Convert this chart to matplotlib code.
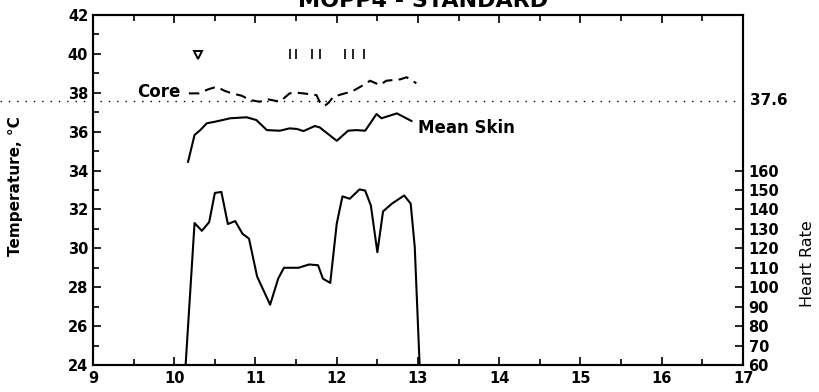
# MOPP4 standard trial: core / mean skin temperature and heart rate vs time
import matplotlib
matplotlib.use("Agg")
import matplotlib.pyplot as plt
from matplotlib.ticker import MultipleLocator, FixedLocator
from matplotlib.transforms import blended_transform_factory

plt.rcParams['font.family'] = ['DejaVu Sans']

# time of day (h) and heart rate (bpm)
hr_time = [10.14, 10.25, 10.34, 10.43, 10.50, 10.58, 10.66, 10.75, 10.84,
           10.92, 11.02, 11.18, 11.28, 11.35, 11.53, 11.66, 11.77, 11.83,
           11.92, 12.00, 12.07, 12.16, 12.28, 12.35, 12.42, 12.50, 12.57,
           12.68, 12.83, 12.91, 12.96, 13.02]
hr_bpm = [60, 133, 129, 133.5, 148.5, 149, 132.5, 134, 127.5,
          125, 105.5, 91, 104.5, 110, 110, 111.7, 111.3, 104.4,
          102.2, 132.7, 146.7, 145.5, 150.3, 149.7, 142, 118, 139,
          143, 147.2, 143, 120.7, 60]

# mean skin temperature (deg C)
skin_time = [10.17, 10.25, 10.32, 10.40, 10.50, 10.69, 10.89, 11.01, 11.14,
             11.30, 11.42, 11.51, 11.59, 11.73, 11.79, 12.00, 12.14, 12.24,
             12.35, 12.49, 12.55, 12.74, 12.92]
skin_temp = [34.45, 35.83, 36.08, 36.43, 36.51, 36.69, 36.74, 36.60, 36.08,
             36.05, 36.17, 36.14, 36.03, 36.29, 36.22, 35.53, 36.05, 36.08,
             36.05, 36.91, 36.69, 36.94, 36.55]

# core (rectal) temperature (deg C)
core_time = [10.18, 10.30, 10.42, 10.52, 10.62, 10.71, 10.83, 10.93, 11.05,
             11.16, 11.30, 11.42, 11.51, 11.59, 11.75, 11.79, 11.85, 11.90,
             11.96, 12.10, 12.18, 12.33, 12.41, 12.53, 12.61, 12.78, 12.86,
             12.98]
core_temp = [37.97, 37.97, 38.18, 38.31, 38.10, 37.97, 37.85, 37.63, 37.54,
             37.66, 37.54, 37.97, 38.00, 37.97, 37.88, 37.54, 37.32, 37.49,
             37.80, 37.97, 38.05, 38.40, 38.62, 38.40, 38.62, 38.69, 38.80,
             38.49]

ref_core = 37.6
# event markers along the top
start_mark = (10.29, 39.95)
event_times = [11.42, 11.50, 11.70, 11.79, 12.10, 12.20, 12.33]

hr_ticks = [60, 70, 80, 90, 100, 110, 120, 130, 140, 150, 160]

fig = plt.figure(figsize=(8.2, 3.92), dpi=100)
ax = fig.add_axes([0.1134, 0.0689, 0.7927, 0.8928])
ax.set_xlim(9, 17)
ax.set_ylim(24, 42)

ax2 = ax.twinx()
# 10 bpm per deg C, 60 bpm at the bottom of the axis
ax2.set_ylim(60, 60 + 18 * 10)
ax2.yaxis.set_major_locator(FixedLocator(hr_ticks))

lw = 1.5
ax.plot(skin_time, skin_temp, color='black', lw=lw, solid_joinstyle='round')
ax.plot(core_time, core_temp, color='black', lw=lw, dashes=(5, 3))
ax2.plot(hr_time, hr_bpm, color='black', lw=lw, solid_joinstyle='round')

# 37.6 reference line runs out past the left spine
trans = blended_transform_factory(ax.transAxes, ax.transData)
ax.plot([-0.143, 1.0], [ref_core, ref_core], transform=trans, color='black',
        lw=1.0, dashes=(1, 5), clip_on=False)
ax.text(1.01, ref_core, "37.6", transform=trans, ha='left', va='center',
        fontsize=11, fontweight='bold')

ax.plot(*start_mark, marker='v', ms=6, mfc='none', mec='black', mew=1.4)
ax.vlines(event_times, 39.75, 40.25, color='black', lw=1.2)

ax.text(10.08, 38.05, "Core", ha='right', va='center', fontsize=12,
        fontweight='bold')
ax.text(13.0, 36.2, "Mean Skin", ha='left', va='center', fontsize=12,
        fontweight='bold')

ax.xaxis.set_major_locator(MultipleLocator(1))
ax.xaxis.set_minor_locator(MultipleLocator(0.5))
ax.yaxis.set_major_locator(MultipleLocator(2))
ax.yaxis.set_minor_locator(MultipleLocator(1))
ax.tick_params(which='both', direction='in', top=True, right=False,
               labelsize=10.5, width=1.2)
ax.tick_params(which='major', length=6)
ax.tick_params(which='minor', length=4)
ax.tick_params(axis='x', pad=4)
ax2.tick_params(direction='in', length=6, width=1.2, labelsize=10.5, pad=4)
for a in (ax, ax2):
    for lab in a.get_xticklabels() + a.get_yticklabels():
        lab.set_fontweight('bold')
    for sp in a.spines.values():
        sp.set_linewidth(1.5)

ax.set_ylabel("Temperature, °C", fontsize=11, fontweight='bold')
ax.yaxis.set_label_coords(-0.108, 0.51)
ax2.set_ylabel("Heart Rate", fontsize=11.5)
ax2.yaxis.set_label_coords(1.087, 0.29)

fig.text(0.516, 0.983, "MOPP4 - STANDARD", ha='center', va='baseline',
         fontsize=16, fontweight='bold')

fig.savefig("out.png", dpi=100)
